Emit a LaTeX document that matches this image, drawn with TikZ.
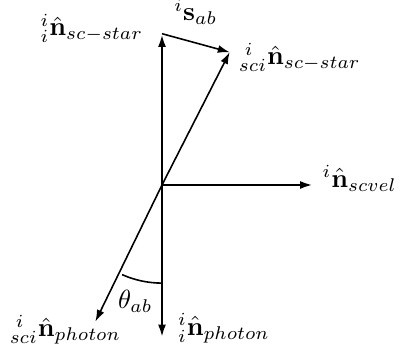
\documentclass[tikz,border=0pt]{standalone}
\usepackage{amsmath,amssymb}
\usepackage{tikz}
\usetikzlibrary{calc, arrows.meta, positioning}

\begin{document}
\begin{tikzpicture}[
    every node/.style={font=\normalsize},
    axis/.style={-{Latex[length=5pt, width=3pt]}, line width=1pt},
    vec/.style={-{Latex[length=4.5pt, width=3pt]}, semithick},
  ]
  \useasboundingbox (-2.163,-2.229) rectangle (3.191,2.470);

  % Inertial frame axes
  \coordinate (O) at (0,0);
  \coordinate (star) at (0,2.02);
  \coordinate (photon) at (0,-2.04);
  \coordinate (vel) at (2.02,0);
  \draw[axis] (O) -- (star);
  \draw[axis] (O) -- (photon);
  \draw[axis] (O) -- (vel);

  % Aberrated direction
  \coordinate (scistar) at (63:1.99);
  \coordinate (sciphoton) at (244:2.03);
  \draw[vec] (O) -- (scistar);
  \draw[vec] (O) -- (sciphoton);
  \draw[vec] (star) -- (scistar);

  % Aberration angle
  \draw[semithick] (O) ++(-90:1.31) arc[start angle=-90, end angle=-114, radius=1.31];

  % Labels
  \node[left=1.3mm of star, yshift=0.7mm] (lstar) {$^{i}_{i}\hat{\mathbf{n}}_{sc-star}$};
  \node[above=1.2mm] (lsab) at ($(star)!0.5!(scistar)$) {$^{i}\mathbf{s}_{ab}$};
  \node[right=0mm of scistar, yshift=-0.7mm] (lscistar) {$^{\;i}_{sci}\hat{\mathbf{n}}_{sc-star}$};
  \node[right=0mm of vel, yshift=0.9mm] (lvel) {$^{i}\hat{\mathbf{n}}_{scvel}$};
  \node (lsciphoton) at ($(sciphoton)+(-0.40,-0.11)$) {$^{\;i}_{sci}\hat{\mathbf{n}}_{photon}$};
  \node[right=0.9mm of photon, yshift=1.3mm] (lphoton) {$^{i}_{i}\hat{\mathbf{n}}_{photon}$};
  \node (ltheta) at (-103:1.59) {$\theta_{ab}$};
\end{tikzpicture}
\end{document}
